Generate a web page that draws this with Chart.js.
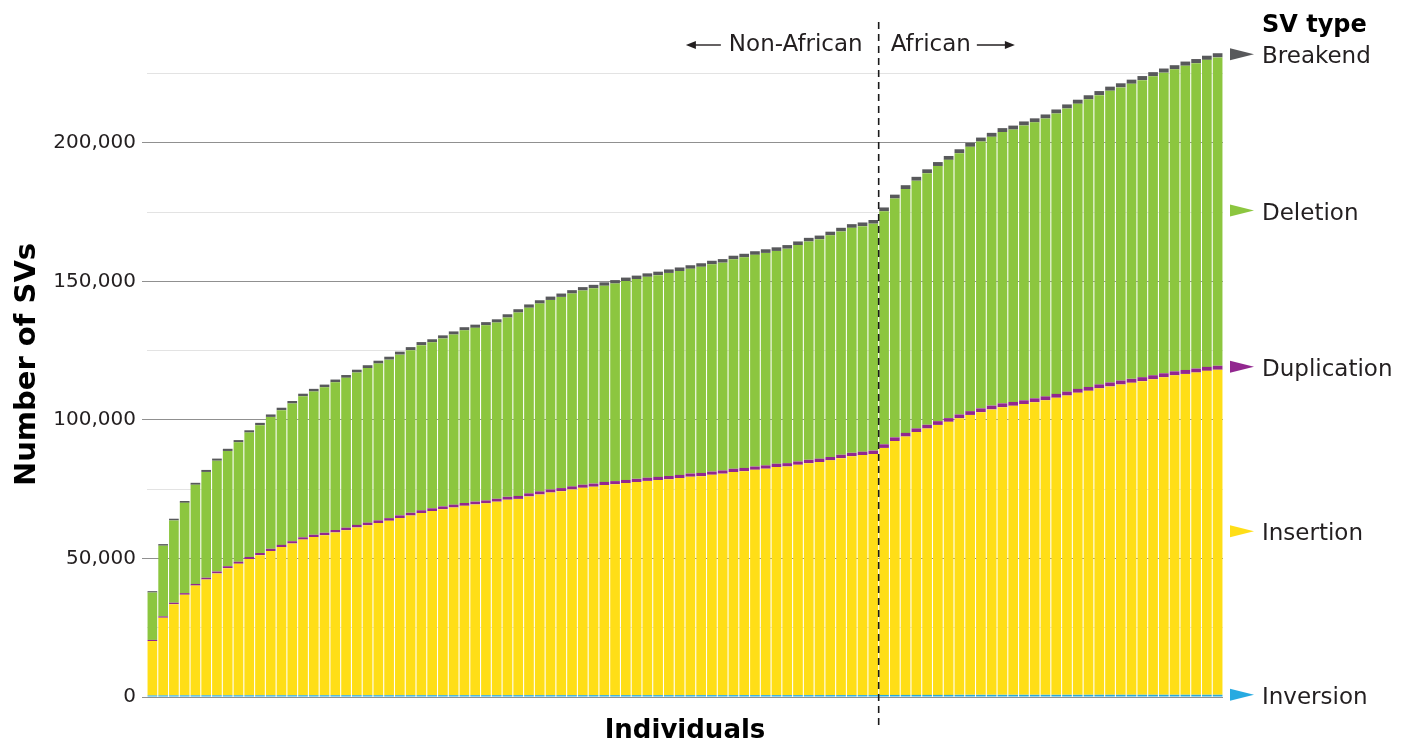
<!DOCTYPE html>
<html>
<head>
<meta charset="utf-8">
<title>Number of SVs per individual</title>
<script src="https://cdn.jsdelivr.net/npm/chart.js@4/dist/chart.umd.min.js"></script>
<style>
  html, body { margin: 0; padding: 0; background: #ffffff; }
  canvas { display: block; }
</style>
</head>
<body>
<canvas id="svChart" width="1408" height="747"></canvas>
<script>
// Individuals, sorted by total SV count within each group
const nonAfricanCount = 68;
const africanCount = 32;
const categories = [];
for (let i = 1; i <= nonAfricanCount; i++) categories.push('Non-African ' + i);
for (let i = 1; i <= africanCount; i++) categories.push('African ' + i);

// SV counts per individual, by type (bottom of stack first)
const inversion = [
  560,580,590,600,600,610,610,610,620,620,
  620,620,630,630,630,630,630,640,640,640,
  640,640,640,640,650,650,650,650,650,650,
  650,650,660,660,660,660,660,660,660,660,
  660,670,670,670,670,670,670,670,670,670,
  670,680,680,680,680,680,680,680,680,680,
  680,680,690,690,690,690,690,690,
  740,750,750,760,760,760,760,770,770,770,
  770,770,770,780,780,780,780,780,780,780,
  790,790,790,790,790,790,790,790,800,800,
  800,800
];
const insertion = [
  19640,28020,32910,36300,39600,41790,43990,45890,47480,49180,
  50580,52080,53470,54770,56170,57070,57770,58760,59560,60560,
  61360,62160,62960,63960,64850,65750,66450,67150,67750,68350,
  68850,69250,69840,70540,70840,71740,72440,73140,73640,74240,
  74840,75230,75830,76130,76530,76930,77330,77630,77930,78330,
  78830,79020,79520,79920,80520,80820,81320,81720,82320,82520,
  83120,83720,84110,84710,85510,86210,86610,87010,
  89160,91650,93250,94840,96140,97440,98540,99830,101030,102030,
  103030,103830,104330,104920,105620,106320,107220,108020,109020,109720,
  110610,111310,112010,112610,113210,113910,114610,115310,115800,116300,
  116900,117300
];
const duplication = [
  400,500,520,580,600,630,680,700,720,740,
  780,790,800,820,830,850,870,880,900,910,
  920,930,950,960,980,990,1000,1000,1010,1020,
  1030,1030,1040,1050,1060,1080,1090,1100,1100,1110,
  1110,1120,1120,1120,1130,1130,1140,1140,1150,1150,
  1150,1160,1160,1160,1170,1170,1180,1180,1190,1190,
  1200,1200,1210,1210,1220,1220,1230,1230,
  1300,1310,1320,1330,1340,1350,1350,1360,1360,1370,
  1370,1380,1380,1380,1390,1390,1390,1400,1400,1400,
  1410,1410,1410,1420,1420,1420,1430,1430,1430,1440,
  1440,1440
];
const deletion = [
  17100,25500,29700,32600,35800,38200,40000,41600,43100,44900,
  46100,47600,48600,49700,50900,51700,52500,53300,54100,55000,
  55800,56600,57200,58000,58700,59600,59900,60600,61400,62300,
  62700,63200,63600,64700,66200,67000,67800,68400,69000,69600,
  70100,70500,70800,71300,71800,72100,72500,72800,73300,73600,
  73900,74400,74800,75000,75600,76000,76400,76700,76800,77400,
  78100,78800,79200,80000,80600,81200,81400,81900,
  84100,86200,88000,89400,90800,92100,93200,94300,95400,96300,
  97000,97900,98300,99200,99600,100300,101200,102200,102900,103800,
  104400,105300,105800,106500,107200,107900,108500,109000,109800,110200,
  110800,111300
];
const breakend = [
  500,580,620,660,700,720,760,780,800,820,
  860,880,900,910,930,960,980,990,1000,1010,
  1020,1040,1060,1080,1090,1100,1110,1120,1130,1140,
  1150,1160,1170,1180,1190,1200,1200,1210,1210,1220,
  1220,1230,1230,1240,1240,1250,1250,1260,1260,1270,
  1270,1280,1280,1280,1290,1290,1300,1300,1300,1310,
  1310,1310,1320,1320,1320,1330,1330,1330,
  1380,1390,1390,1400,1400,1410,1410,1420,1420,1430,
  1430,1430,1440,1440,1450,1450,1450,1460,1460,1470,
  1470,1470,1480,1480,1480,1490,1490,1490,1500,1500,
  1500,1500
];

// Value axis: grid lines every 25,000, labelled every 50,000
const yMax = 240000;
const yTicks = [0, 25000, 50000, 75000, 100000, 125000, 150000, 175000, 200000, 225000];
const yLabelled = [0, 50000, 100000, 150000, 200000];

const svTypes = ['Inversion', 'Insertion', 'Duplication', 'Deletion', 'Breakend'];
const svValues = [inversion, insertion, duplication, deletion, breakend];
const svColors = ['#27aae1', '#ffde17', '#92278f', '#8cc63f', '#58595b'];

const groupLabels = ['Non-African', 'African'];
const legendTitle = 'SV type';

const FONT = "'DejaVu Sans', 'Noto Sans', sans-serif";
const TEXT = '#231f20';

const isLabelled = v => yLabelled.includes(v);

// Dashed group separator, group captions with arrows, and the type key on the right
const svAnnotations = {
  id: 'svAnnotations',
  afterDraw(chart) {
    const { ctx, chartArea, scales: { x } } = chart;
    const bx = (x.getPixelForValue(nonAfricanCount - 1) + x.getPixelForValue(nonAfricanCount)) / 2;

    ctx.save();
    ctx.strokeStyle = '#1a1a1a';
    ctx.lineWidth = 1.6;
    ctx.setLineDash([7, 5]);
    ctx.beginPath();
    ctx.moveTo(bx, 22);
    ctx.lineTo(bx, 729);
    ctx.stroke();
    ctx.setLineDash([]);

    // group captions
    const capY = 51;
    const arrowY = 45;
    ctx.font = '23px ' + FONT;
    ctx.fillStyle = TEXT;
    ctx.textBaseline = 'alphabetic';
    ctx.textAlign = 'right';
    const leftRight = bx - 16;
    ctx.fillText(groupLabels[0], leftRight, capY);
    const leftW = ctx.measureText(groupLabels[0]).width;
    ctx.textAlign = 'left';
    const rightLeft = bx + 12;
    ctx.fillText(groupLabels[1], rightLeft, capY);
    const rightW = ctx.measureText(groupLabels[1]).width;

    const drawArrow = (x0, x1) => {
      const dir = Math.sign(x1 - x0);
      ctx.strokeStyle = TEXT;
      ctx.lineWidth = 1.4;
      ctx.beginPath();
      ctx.moveTo(x0, arrowY);
      ctx.lineTo(x1 - dir * 6, arrowY);
      ctx.stroke();
      ctx.fillStyle = TEXT;
      ctx.beginPath();
      ctx.moveTo(x1, arrowY);
      ctx.lineTo(x1 - dir * 10, arrowY - 4);
      ctx.lineTo(x1 - dir * 10, arrowY + 4);
      ctx.closePath();
      ctx.fill();
    };
    const lStart = leftRight - leftW - 8;
    drawArrow(lStart, lStart - 35);
    const rStart = rightLeft + rightW + 6;
    drawArrow(rStart, rStart + 38);

    // type key beside the last bar
    const triX = chartArea.right + 7;
    const txtX = chartArea.right + 39;
    ctx.textAlign = 'left';
    ctx.fillStyle = '#000000';
    ctx.font = 'bold 24px ' + FONT;
    ctx.fillText(legendTitle, txtX, 32);

    const last = categories.length - 1;
    ctx.font = '23px ' + FONT;
    chart.data.datasets.forEach((ds, i) => {
      const el = chart.getDatasetMeta(i).data[last];
      const cy = (el.y + el.base) / 2;
      ctx.fillStyle = svColors[i];
      ctx.beginPath();
      ctx.moveTo(triX, cy - 7);
      ctx.lineTo(triX + 24, cy - 1);
      ctx.lineTo(triX, cy + 5);
      ctx.closePath();
      ctx.fill();
      ctx.fillStyle = TEXT;
      ctx.fillText(ds.label, txtX, cy + 8);
    });
    ctx.restore();
  }
};

new Chart(document.getElementById('svChart'), {
  type: 'bar',
  data: {
    labels: categories,
    datasets: svTypes.map((name, i) => ({
      label: name,
      data: svValues[i],
      backgroundColor: svColors[i],
      borderWidth: 0,
      barPercentage: 0.9,
      categoryPercentage: 1.0
    }))
  },
  options: {
    responsive: false,
    devicePixelRatio: 1,
    animation: false,
    layout: { padding: { left: 0, right: 185, top: 32, bottom: 0 } },
    plugins: {
      legend: { display: false },
      tooltip: { enabled: false }
    },
    scales: {
      x: {
        stacked: true,
        grid: { display: false },
        border: { display: false },
        ticks: { display: false },
        title: {
          display: true,
          text: 'Individuals',
          color: '#000000',
          font: { family: FONT, size: 26, weight: 'bold' },
          padding: { top: 0, bottom: 0 }
        },
        afterFit(scale) { scale.height = 50; }
      },
      y: {
        stacked: true,
        z: 1,
        min: 0,
        max: yMax,
        afterBuildTicks(scale) {
          scale.ticks = yTicks.map(v => ({ value: v }));
        },
        ticks: {
          autoSkip: false,
          padding: 6,
          color: TEXT,
          font: { family: FONT, size: 20 },
          callback: v => (isLabelled(v) ? v.toLocaleString('en-US') : '')
        },
        grid: {
          drawTicks: true,
          tickLength: 5,
          lineWidth: 1,
          color: c => (c.tick && isLabelled(c.tick.value) ? 'rgba(70,70,70,0.6)' : 'rgba(90,90,90,0.17)'),
          tickColor: c => (c.tick && isLabelled(c.tick.value) ? 'rgba(70,70,70,0.6)' : 'rgba(0,0,0,0)')
        },
        border: { display: false },
        title: {
          display: true,
          text: 'Number of SVs',
          color: '#000000',
          font: { family: FONT, size: 29, weight: 'bold' },
          padding: { top: 10, bottom: 0 }
        },
        afterFit(scale) { scale.width = 147; }
      }
    }
  },
  plugins: [svAnnotations]
});
</script>
</body>
</html>
